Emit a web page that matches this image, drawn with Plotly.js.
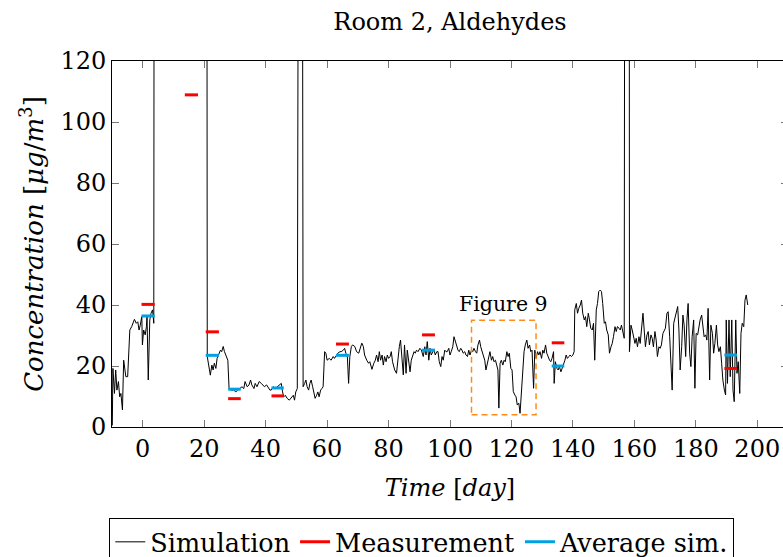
<!DOCTYPE html>
<html>
<head>
<meta charset="utf-8">
<script src="https://cdn.plot.ly/plotly-3.0.1.min.js"></script>
<style>
html,body{margin:0;padding:0;overflow:hidden;background:#fff;}
#chart{width:795px;height:575px;}
</style>
</head>
<body>
<div id="chart"></div>
<script>
// Simulation series (day, concentration)
const simDay = [-9.9,-9.7,-9.2,-8.8,-8.4,-7.9,-7.5,-7.1,-6.6,-6.2,-5.5,-4.9,-4.2,-3.6,-2.7,-2.1,-1.6,-1.2,-0.8,-0.3,-0.1,0.3,0.8,1.2,1.4,1.8,2.3,2.7,3.2,3.6,3.8,20.8,
21.0,21.6,22.0,22.5,22.9,23.3,23.8,24.2,24.9,25.3,25.7,26.2,26.6,27.3,27.7,28.1,28.8,29.6,30.3,30.9,
31.6,32.3,32.9,33.3,34.0,34.6,35.1,35.5,36.2,36.6,37.2,37.9,38.6,39.2,39.6,40.3,40.9,41.4,41.8,42.5,43.1,43.8,44.4,45.1,45.5,45.9,46.4,47.0,47.7,48.3,49.0,49.4,49.8,50.3,50.9,51.8,
52.2,52.7,53.1,53.5,54.0,54.4,54.8,55.3,55.7,56.1,56.6,57.0,57.4,57.9,58.3,58.7,59.2,59.6,60.0,60.7,61.3,62.0,62.4,63.1,63.5,64.2,64.6,65.3,65.7,66.1,66.6,67.0,67.4,67.9,68.3,69.0,69.6,70.3,70.9,71.3,71.8,72.2,72.9,73.5,73.9,
74.6,75.2,75.7,76.1,76.6,77.0,77.4,77.9,78.3,78.7,79.2,79.6,80.0,80.5,80.9,81.3,82.0,82.6,83.1,83.5,83.9,84.4,84.8,85.2,85.7,86.1,86.5,87.0,87.4,87.8,88.3,88.7,89.1,89.6,90.2,90.7,91.3,91.8,92.2,92.6,93.1,93.5,93.9,94.4,94.8,95.2,95.7,96.1,96.5,97.0,97.4,97.8,98.3,98.7,99.1,99.6,100.0,100.4,100.9,101.3,101.7,102.2,102.6,103.0,103.5,103.9,104.3,104.8,105.2,105.7,106.1,106.5,107.0,107.4,107.8,108.3,108.7,109.1,109.6,110.0,110.4,110.9,111.3,111.7,112.2,112.6,113.0,113.5,113.9,114.3,114.8,115.2,115.6,
115.9,116.3,116.7,117.2,117.6,118.0,118.5,118.9,119.3,119.8,120.2,120.6,121.1,121.5,121.9,122.4,122.8,123.2,123.7,124.1,124.5,125.0,125.4,125.9,126.3,126.7,127.2,127.6,128.0,128.5,128.9,129.3,129.8,130.2,130.6,131.1,131.5,131.9,132.4,132.8,133.2,133.7,133.9,134.3,134.8,135.2,135.6,136.1,136.5,136.9,137.4,137.8,138.2,138.7,139.1,139.5,140.0,140.4,140.6,141.1,141.5,141.9,142.4,142.8,143.2,143.7,144.1,144.5,145.0,145.4,145.8,146.3,146.7,147.1,147.6,148.0,148.4,148.9,149.3,149.7,150.2,150.6,151.0,151.5,151.9,152.4,152.8,153.2,153.7,154.1,154.5,155.0,155.4,155.8,156.3,156.7,157.0,158.3,
158.4,158.9,159.3,159.7,160.2,160.6,161.0,161.5,161.9,162.3,162.8,163.2,163.6,164.1,164.5,164.9,165.4,165.8,166.2,166.7,167.1,167.5,168.0,168.4,168.8,169.3,169.7,170.1,170.6,171.0,171.5,171.9,172.3,172.8,173.2,173.6,174.1,174.5,174.9,175.4,175.8,176.2,176.7,177.1,177.5,178.0,178.4,178.8,179.3,179.7,180.1,180.6,181.0,181.4,181.9,182.3,182.7,183.2,183.6,184.0,184.5,184.9,185.4,185.8,186.2,186.7,187.1,187.5,188.0,188.4,188.8,189.3,189.7,189.9,190.3,190.8,191.2,191.7,192.1,192.5,193.0,193.4,193.8,194.3,194.7,195.1,195.6,196.0,196.4,196.9];
const simVal = [0.5,19.2,11.0,18.7,12.1,14.9,9.9,11.0,5.6,21.9,16.5,16.5,31.8,32.9,35.3,34.0,34.5,31.8,33.4,36.2,26.9,31.8,30.2,32.9,36.2,15.4,35.1,37.3,38.4,34.0,300,300,
23.1,19.2,17.0,20.3,18.7,20.9,19.2,22.5,24.7,25.2,24.7,26.4,24.7,23.1,21.9,12.6,12.1,12.1,11.5,12.1,
12.6,13.2,12.6,14.9,13.2,13.8,15.4,13.8,12.6,14.3,13.2,14.9,14.3,13.8,13.2,13.8,12.6,12.1,12.1,13.2,12.6,13.2,13.8,14.3,11.5,9.9,10.4,9.4,8.8,9.4,10.4,8.8,11.5,12.6,300,300,
13.2,14.3,15.4,13.2,12.1,14.3,15.4,13.2,11.0,9.4,10.4,11.5,9.9,12.1,12.6,13.2,24.7,24.2,21.9,22.5,21.9,23.1,22.5,23.6,24.2,24.7,24.7,25.2,25.8,24.2,23.1,14.3,23.1,26.4,26.9,26.4,24.7,24.2,25.8,27.5,26.4,23.6,21.9,20.9,21.4,
18.9,20.9,21.9,23.6,21.4,24.7,21.9,23.6,20.3,23.1,21.4,23.6,22.5,23.1,24.7,21.4,18.7,17.6,23.1,26.3,28.5,21.9,17.1,26.9,17.6,25.2,20.9,18.1,21.9,23.6,24.7,24.2,25.2,24.7,25.8,25.2,23.1,26.3,23.6,28.0,21.9,25.8,23.6,24.7,25.2,23.6,24.7,24.7,21.4,19.8,23.1,21.9,25.2,24.7,24.7,25.8,23.6,24.7,26.3,29.6,28.0,26.9,25.2,24.7,25.8,25.2,24.2,24.7,23.6,23.1,25.2,23.6,25.2,24.7,25.8,24.7,24.2,26.9,28.5,26.3,24.7,22.5,21.9,18.7,21.4,23.1,24.7,21.9,23.1,21.4,21.9,20.3,18.7,
6.2,20.9,21.9,20.3,21.9,21.4,24.7,23.1,24.2,19.2,18.7,11.6,10.5,9.9,7.2,7.8,4.5,12.1,20.9,24.7,26.9,28.5,25.8,26.9,24.7,25.2,12.7,25.2,22.5,24.7,23.6,24.7,22.5,25.2,24.2,26.9,24.2,23.1,21.9,21.4,22.5,24.7,14.3,21.4,19.2,18.7,19.8,18.1,19.2,19.8,21.9,23.6,22.5,23.1,23.6,23.1,23.6,24.7,38.4,40.5,37.3,38.9,40.0,41.6,37.3,35.1,36.2,32.9,37.3,35.1,32.4,31.8,34.0,21.9,38.4,40.5,44.4,44.9,44.4,40.5,34.0,34.5,31.8,30.2,24.2,26.3,27.4,29.6,32.9,31.3,32.9,32.4,31.8,33.4,30.7,29.1,300,300,
24.7,33.4,31.8,29.6,27.4,29.1,26.3,29.6,27.4,31.8,37.3,31.8,26.3,30.2,31.3,26.9,30.2,29.1,26.3,31.3,28.5,23.1,26.3,25.8,26.9,30.7,31.8,32.4,37.3,37.8,29.6,21.9,12.1,34.0,35.6,37.8,39.5,31.8,18.7,26.3,36.7,33.4,23.1,35.1,40.5,24.2,19.8,29.6,35.1,12.7,30.7,30.2,32.9,35.1,36.7,32.4,29.6,30.2,28.5,38.9,15.4,33.4,30.7,24.2,27.4,33.4,26.9,24.7,26.3,20.9,15.4,12.1,10.5,35.1,14.3,35.1,16.5,35.1,12.1,8.3,35.1,17.6,21.4,11.0,30.7,34.0,32.9,41.6,43.3,40.0];

// Measurement campaigns
const measStart = [-0.4, 13.7, 20.5, 27.8, 41.9, 62.9, 90.9, 133.1, 189.3];
const measEnd   = [3.9, 18.0, 24.8, 31.9, 45.9, 67.1, 95.1, 137.2, 193.4];
const measVal   = [40.2, 108.9, 31.2, 9.3, 10.2, 27.2, 30.2, 27.6, 19.2];

// Average of simulation over campaigns
const avgStart = [-0.4, 20.5, 27.8, 41.9, 62.9, 90.9, 133.1, 189.3];
const avgEnd   = [3.9, 24.8, 31.9, 45.9, 67.1, 95.1, 137.2, 193.4];
const avgVal   = [36.4, 23.5, 12.4, 12.8, 23.5, 25.2, 20.0, 23.6];

// Zoom box for "Figure 9"
const boxX = [107, 128];
const boxY = [4, 35];
const boxLabel = "Figure 9";

function segs(s, e, v) {
  const x = [], y = [];
  for (let i = 0; i < s.length; i++) { x.push(s[i], e[i], null); y.push(v[i], v[i], null); }
  return {x, y};
}
const m = segs(measStart, measEnd, measVal);
const a = segs(avgStart, avgEnd, avgVal);

const FONT = 'DejaVu Serif';

const traces = [
  {x: simDay, y: simVal, type: 'scatter', mode: 'lines', name: 'Simulation',
   line: {color: '#000', width: 1}},
  {x: m.x, y: m.y, type: 'scatter', mode: 'lines', name: 'Measurement',
   line: {color: '#ff0000', width: 3}, connectgaps: false},
  {x: a.x, y: a.y, type: 'scatter', mode: 'lines', name: 'Average sim.',
   line: {color: '#00a0e3', width: 3}, connectgaps: false}
];

const axisCommon = {
  showgrid: false, zeroline: false, showline: true, linecolor: '#000', linewidth: 1,
  mirror: 'ticks', ticks: 'inside', ticklen: 7, tickcolor: '#777', tickwidth: 1,
  tickfont: {family: FONT, size: 24, color: '#000'}
};

const layout = {
  width: 795, height: 575,
  margin: {l: 112, r: 7, t: 61, b: 148},
  paper_bgcolor: '#fff', plot_bgcolor: '#fff',
  font: {family: FONT, color: '#000'},
  title: {text: 'Room 2, Aldehydes', font: {family: FONT, size: 24, color: '#000'},
          x: 0.5, xref: 'paper', y: 1 - 22 / 575, yref: 'container', yanchor: 'middle'},
  xaxis: Object.assign({}, axisCommon, {
    range: [-10, 210], tick0: 0, dtick: 20,
    title: {text: '<i>Time</i> [<i>day</i>]', font: {family: FONT, size: 24, color: '#000'}, standoff: 17}
  }),
  yaxis: Object.assign({}, axisCommon, {
    range: [0, 120], tick0: 0, dtick: 20,
    title: {text: '<i>Concentration</i> [<i>μg</i>/<i>m</i><sup>3</sup>]', font: {family: FONT, size: 26, color: '#000'}, standoff: 9}
  }),
  showlegend: true,
  legend: {orientation: 'h', x: -0.004, xanchor: 'left', y: -0.248, yanchor: 'top',
           bordercolor: '#000', borderwidth: 1, bgcolor: '#fff', itemwidth: 30,
           font: {family: FONT, size: 25.5, color: '#000'}},
  shapes: [{type: 'rect', xref: 'x', yref: 'y', x0: boxX[0], x1: boxX[1], y0: boxY[0], y1: boxY[1],
            line: {color: '#ff8c1a', width: 1.5, dash: '6px,4px'}}],
  annotations: [{x: (boxX[0] + boxX[1]) / 2, y: boxY[1], xref: 'x', yref: 'y', yanchor: 'bottom',
                 text: boxLabel, showarrow: false, yshift: 2,
                 font: {family: FONT, size: 20.5, color: '#000'}}]
};

Plotly.newPlot('chart', traces, layout, {displayModeBar: false, staticPlot: true});
</script>
</body>
</html>
